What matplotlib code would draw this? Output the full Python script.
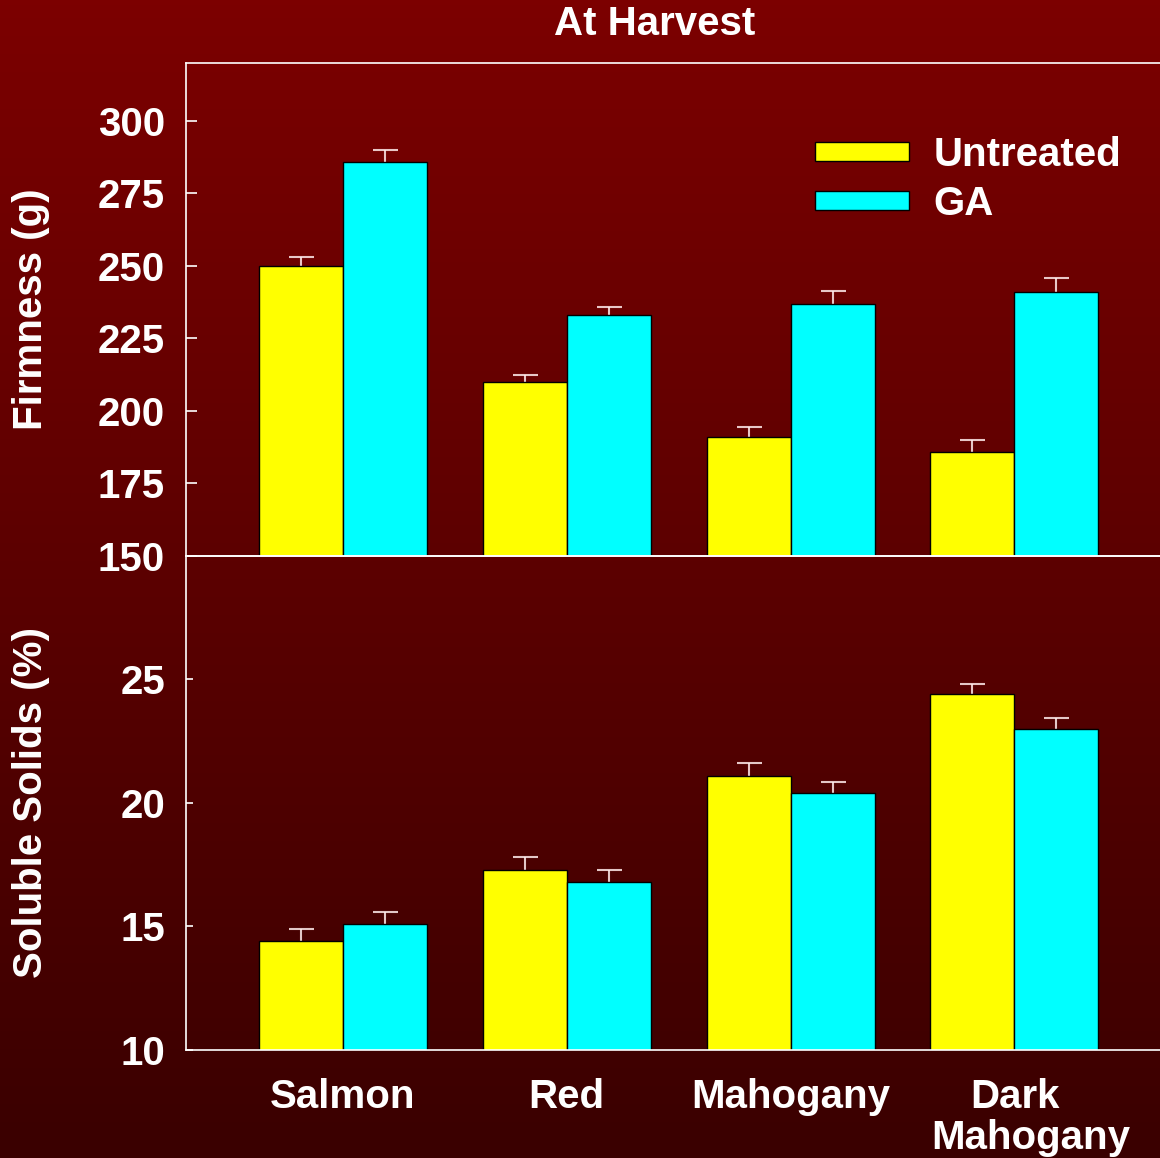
import numpy as np
import matplotlib.pyplot as plt
from matplotlib.colors import LinearSegmentedColormap
from matplotlib.patches import Patch

plt.rcParams['font.family'] = ['Liberation Sans', 'DejaVu Sans']
plt.rcParams['font.weight'] = 'bold'
plt.rcParams['axes.labelweight'] = 'bold'

# Data
categories = ["Salmon", "Red", "Mahogany", "Dark"]
firm_untreated = [250, 210, 191, 186]
firm_untreated_err = [3, 2.5, 3.5, 4]
firm_ga = [286, 233, 237, 241]
firm_ga_err = [4, 3, 4.5, 5]
ss_untreated = [14.4, 17.3, 21.1, 24.4]
ss_untreated_err = [0.5, 0.5, 0.5, 0.4]
ss_ga = [15.1, 16.8, 20.4, 23.0]
ss_ga_err = [0.5, 0.5, 0.45, 0.45]

yellow = "#ffff00"
cyan = "#00ffff"
err_color = (1, 0.92, 0.92, 0.85)
fs = 29

fig = plt.figure(figsize=(11.6, 11.58), dpi=100)

# gradient background
bg = fig.add_axes([0, 0, 1, 1], zorder=-10)
cmap = LinearSegmentedColormap.from_list("bg", ["#7c0000", "#3a0000"])
bg.imshow(np.linspace(0, 1, 256).reshape(-1, 1), aspect="auto", cmap=cmap,
          extent=[0, 1, 0, 1], origin="upper")
bg.axis("off")

ax1 = fig.add_axes([0.1603, 0.5199, 0.8397, 0.4257])
ax2 = fig.add_axes([0.1603, 0.0933, 0.8397, 0.4266])

x = np.arange(len(categories))
w = 0.375

def style(ax, ticks, ylim, ticklen):
    ax.set_facecolor("none")
    ax.set_xlim(-0.70, 3.65)
    ax.set_ylim(*ylim)
    ax.set_yticks(ticks)
    for s in ["left", "top", "bottom"]:
        ax.spines[s].set_color("white")
        ax.spines[s].set_linewidth(1.2)
    ax.spines["right"].set_visible(False)
    ax.tick_params(axis="y", direction="in", length=ticklen, width=1.2,
                   color="white", labelcolor="white", labelsize=fs, pad=15)
    ax.tick_params(axis="x", length=0, labelcolor="white", labelsize=fs, pad=20)

def bars(ax, unt, unt_err, ga, ga_err):
    ax.bar(x - w / 2, unt, w, color=yellow, edgecolor="black", linewidth=1, zorder=2)
    ax.bar(x + w / 2, ga, w, color=cyan, edgecolor="black", linewidth=1, zorder=2)
    for xs, vals, errs in [(x - w / 2, unt, unt_err), (x + w / 2, ga, ga_err)]:
        eb = ax.errorbar(xs, vals, yerr=[np.zeros(len(vals)), errs], fmt="none",
                         ecolor=err_color, elinewidth=1.5, capsize=9, capthick=1.5,
                         zorder=1)
        # only keep the upper caps
        for cap in eb[1]:
            if np.allclose(cap.get_ydata(), vals):
                cap.set_visible(False)

bars(ax1, firm_untreated, firm_untreated_err, firm_ga, firm_ga_err)
style(ax1, [150, 175, 200, 225, 250, 275, 300], (150, 320), 8)
ax1.set_xticks([])
ax1.set_ylabel("Firmness (g)", color="white", fontsize=fs)

bars(ax2, ss_untreated, ss_untreated_err, ss_ga, ss_ga_err)
style(ax2, [10, 15, 20, 25], (10, 30), 5)
ax2.set_xticks(x)
ax2.set_xticklabels(categories)
ax2.text(3 + 16 / 224, -0.14, "Mahogany", transform=ax2.get_xaxis_transform(),
         color="white", fontsize=fs, ha="center", va="top")
ax2.set_ylabel("Soluble Solids (%)", color="white", fontsize=fs)
ax1.yaxis.set_label_coords(-0.1396, 0.5)
ax2.yaxis.set_label_coords(-0.1396, 0.5)

handles = [Patch(facecolor=yellow, edgecolor="black", label="Untreated"),
           Patch(facecolor=cyan, edgecolor="black", label="GA")]
leg = ax1.legend(handles=handles, loc="upper left", bbox_to_anchor=(0.629, 0.885),
                 frameon=False, fontsize=fs, handlelength=2.35, handleheight=0.36,
                 handletextpad=0.6, labelspacing=0.28, borderaxespad=0)
for t in leg.get_texts():
    t.set_color("white")

fig.text(655 / 1160, 1 - 24 / 1158, "At Harvest", color="white", fontsize=fs,
         ha="center", va="center")

fig.savefig("out.png", dpi=100)
